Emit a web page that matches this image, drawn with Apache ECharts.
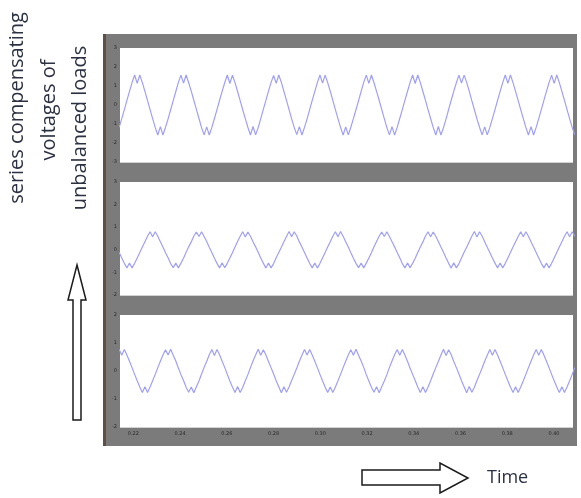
<!DOCTYPE html>
<html>
<head>
<meta charset="utf-8">
<script src="https://cdn.jsdelivr.net/npm/echarts@6/dist/echarts.min.js"></script>
<style>
html,body{margin:0;padding:0;background:#fff;}
#chart{width:581px;height:498px;}
</style>
</head>
<body>
<div id="chart"></div>
<script>
// Time axis (s)
const timeTicks = [0.22, 0.24, 0.26, 0.28, 0.30, 0.32, 0.34, 0.36, 0.38, 0.40];
const xMin = 0.21431, xMax = 0.40815;
const sampleStart = 0.21396, sampleStep = 0.0011014;

// Phase a
const phaseA = [
-1.18,-0.72,-0.24,0.24,0.72,1.18,1.58,1.14,1.58,1.18,0.72,0.24,-0.24,-0.72,-1.18,-1.58,-1.14,-1.58,
-1.17,-0.73,-0.25,0.23,0.71,1.19,1.57,1.15,1.58,1.17,0.73,0.25,-0.23,-0.71,-1.19,-1.57,-1.15,-1.58,
-1.18,-0.71,-0.24,0.25,0.72,1.17,1.58,1.13,1.57,1.18,0.71,0.23,-0.25,-0.72,-1.17,-1.58,-1.13,-1.57,
-1.19,-0.72,-0.23,0.24,0.73,1.18,1.56,1.14,1.58,1.19,0.72,0.24,-0.24,-0.73,-1.18,-1.56,-1.14,-1.58,
-1.18,-0.73,-0.24,0.24,0.72,1.18,1.58,1.15,1.57,1.18,0.73,0.24,-0.24,-0.72,-1.18,-1.58,-1.15,-1.57,
-1.17,-0.72,-0.25,0.23,0.72,1.19,1.57,1.14,1.58,1.17,0.72,0.25,-0.23,-0.72,-1.19,-1.57,-1.14,-1.58,
-1.18,-0.71,-0.24,0.24,0.71,1.18,1.58,1.13,1.58,1.18,0.71,0.24,-0.24,-0.71,-1.18,-1.58,-1.13,-1.58,
-1.19,-0.73,-0.23,0.25,0.73,1.17,1.57,1.15,1.57,1.19,0.73,0.23,-0.25,-0.73,-1.17,-1.57,-1.15,-1.57,
-1.18,-0.72,-0.24,0.24,0.72,1.18,1.58,1.14,1.58,1.18,0.72,0.24,-0.24,-0.72,-1.18,-1.58,-1.14,-1.58,
-1.18,-0.72,-0.24,0.24,0.72,1.18,1.57,1.14,1.58,1.18,0.72,0.24,-0.24,-0.72,-1.18,-1.57
];

// Phase b
const phaseB = [
-0.12,-0.36,-0.60,-0.80,-0.58,-0.80,-0.60,-0.36,-0.12,0.12,0.36,0.60,0.80,0.58,0.80,0.60,0.36,0.12,
-0.13,-0.35,-0.61,-0.79,-0.59,-0.80,-0.59,-0.37,-0.11,0.13,0.35,0.61,0.79,0.59,0.80,0.59,0.37,0.11,
-0.12,-0.37,-0.60,-0.80,-0.57,-0.79,-0.60,-0.36,-0.13,0.12,0.37,0.60,0.80,0.57,0.79,0.60,0.36,0.13,
-0.11,-0.36,-0.59,-0.81,-0.58,-0.80,-0.61,-0.35,-0.12,0.11,0.36,0.59,0.81,0.58,0.80,0.61,0.35,0.12,
-0.12,-0.36,-0.60,-0.80,-0.58,-0.81,-0.60,-0.36,-0.12,0.12,0.36,0.60,0.80,0.58,0.81,0.60,0.36,0.12,
-0.13,-0.37,-0.60,-0.79,-0.59,-0.80,-0.59,-0.36,-0.13,0.13,0.37,0.60,0.79,0.59,0.80,0.59,0.36,0.13,
-0.12,-0.35,-0.61,-0.80,-0.58,-0.79,-0.60,-0.37,-0.12,0.12,0.35,0.61,0.80,0.58,0.79,0.60,0.37,0.12,
-0.11,-0.36,-0.60,-0.81,-0.57,-0.80,-0.61,-0.36,-0.11,0.11,0.36,0.60,0.81,0.57,0.80,0.61,0.36,0.11,
-0.12,-0.36,-0.59,-0.80,-0.58,-0.80,-0.60,-0.36,-0.12,0.12,0.36,0.59,0.80,0.58,0.80,0.60,0.36,0.12,
-0.12,-0.36,-0.60,-0.80,-0.58,-0.80,-0.60,-0.36,-0.12,0.12,0.36,0.60,0.80,0.58,0.80,0.60
];

// Phase c
const phaseC = [
0.77,0.56,0.77,0.57,0.35,0.12,-0.12,-0.35,-0.57,-0.77,-0.56,-0.77,-0.57,-0.35,-0.12,0.12,0.35,0.57,
0.76,0.57,0.78,0.56,0.36,0.11,-0.13,-0.34,-0.58,-0.76,-0.57,-0.78,-0.56,-0.36,-0.11,0.13,0.34,0.58,
0.77,0.55,0.77,0.58,0.35,0.13,-0.12,-0.36,-0.57,-0.77,-0.55,-0.77,-0.58,-0.35,-0.13,0.12,0.36,0.57,
0.78,0.56,0.76,0.57,0.34,0.12,-0.11,-0.35,-0.56,-0.78,-0.56,-0.76,-0.57,-0.34,-0.12,0.11,0.35,0.56,
0.77,0.57,0.77,0.57,0.35,0.12,-0.12,-0.35,-0.57,-0.77,-0.57,-0.77,-0.57,-0.35,-0.12,0.12,0.35,0.57,
0.76,0.56,0.78,0.56,0.36,0.13,-0.13,-0.36,-0.58,-0.76,-0.56,-0.78,-0.56,-0.36,-0.13,0.13,0.36,0.58,
0.77,0.56,0.77,0.57,0.35,0.11,-0.12,-0.34,-0.57,-0.77,-0.56,-0.77,-0.57,-0.35,-0.11,0.12,0.34,0.57,
0.78,0.55,0.76,0.58,0.34,0.12,-0.11,-0.35,-0.56,-0.78,-0.55,-0.76,-0.58,-0.34,-0.12,0.11,0.35,0.56,
0.77,0.56,0.77,0.57,0.35,0.12,-0.12,-0.35,-0.57,-0.77,-0.56,-0.77,-0.57,-0.35,-0.12,0.12,0.35,0.57,
0.77,0.56,0.77,0.57,0.35,0.12,-0.12,-0.35,-0.57,-0.77,-0.56,-0.77,-0.57,-0.35,-0.12,0.12
];

const yRanges = [[-3, 3], [-2, 3], [-2, 2]];
const annotationLines = ['series compensating', 'voltages of', 'unbalanced loads'];
const timeLabel = 'Time';

const series = [phaseA, phaseB, phaseC];
const times = phaseA.map((_, k) => sampleStart + k * sampleStep);

const gridTops = [48, 182, 315];
const gridHeights = [114, 113, 112];
const lineColor = '#a0a0f2';
const splitColor = '#d2d2d2';

const chart = echarts.init(document.getElementById('chart'), null, {renderer: 'canvas'});

const grids = gridTops.map((t, i) => ({
  left: 120, right: 8, top: t, height: gridHeights[i],
  show: true, backgroundColor: '#ffffff', borderWidth: 0, z: 2
}));

const xAxes = gridTops.map((t, i) => ({
  type: 'value', gridIndex: i, min: xMin, max: xMax,
  axisLine: {show: false},
  axisTick: {show: false, customValues: timeTicks},
  axisLabel: {show: i === 2, customValues: timeTicks, fontSize: 5, color: '#2a2a2a', margin: 4,
              formatter: v => v.toFixed(2), fontFamily: 'DejaVu Sans'},
  splitLine: {show: true, lineStyle: {color: splitColor, width: 1}}
}));

const yAxes = gridTops.map((t, i) => ({
  type: 'value', gridIndex: i, min: yRanges[i][0], max: yRanges[i][1], interval: 1,
  axisLine: {show: false},
  axisTick: {show: false},
  axisLabel: {show: true, fontSize: 5, color: '#2a2a2a', margin: 3, fontFamily: 'DejaVu Sans'},
  splitLine: {show: true, lineStyle: {color: splitColor, width: 1}}
}));

const lineSeries = series.map((vals, i) => ({
  type: 'line', xAxisIndex: i, yAxisIndex: i,
  data: vals.map((v, k) => [times[k], v]),
  showSymbol: false, symbol: 'none', smooth: false,
  lineStyle: {color: lineColor, width: 1.2},
  animation: false, z: 5
}));

const textColor = '#2c3142';
const graphics = [
  {type: 'rect', z: -10, shape: {x: 104, y: 34, width: 473, height: 412}, style: {fill: '#7b7b7b'}},
  {type: 'rect', z: -9, shape: {x: 103, y: 34, width: 3, height: 412}, style: {fill: '#5d5144'}},
  {type: 'text', x: 17, y: 108, rotation: Math.PI / 2,
   style: {text: annotationLines[0], font: '20px "Open Sans"', fill: textColor, align: 'center', verticalAlign: 'middle'}},
  {type: 'text', x: 49, y: 110, rotation: Math.PI / 2,
   style: {text: annotationLines[1], font: '20px "Open Sans"', fill: textColor, align: 'center', verticalAlign: 'middle'}},
  {type: 'text', x: 80, y: 128, rotation: Math.PI / 2,
   style: {text: annotationLines[2], font: '20px "Open Sans"', fill: textColor, align: 'center', verticalAlign: 'middle'}},
  {type: 'polygon', shape: {points: [[77, 265], [86, 300], [81, 300], [81, 420], [73, 420], [73, 300], [68, 300]]},
   style: {fill: '#ffffff', stroke: '#1a1a1a', lineWidth: 1.5}},
  {type: 'polygon', shape: {points: [[362, 470], [440, 470], [440, 463], [468, 478], [440, 493], [440, 485], [362, 485]]},
   style: {fill: '#ffffff', stroke: '#1a1a1a', lineWidth: 1.5}},
  {type: 'text', x: 487, y: 478,
   style: {text: timeLabel, font: '18px "Open Sans"', fill: textColor, align: 'left', verticalAlign: 'middle'}}
];

chart.setOption({
  animation: false,
  backgroundColor: '#ffffff',
  grid: grids,
  xAxis: xAxes,
  yAxis: yAxes,
  series: lineSeries,
  graphic: graphics
});
</script>
</body>
</html>
